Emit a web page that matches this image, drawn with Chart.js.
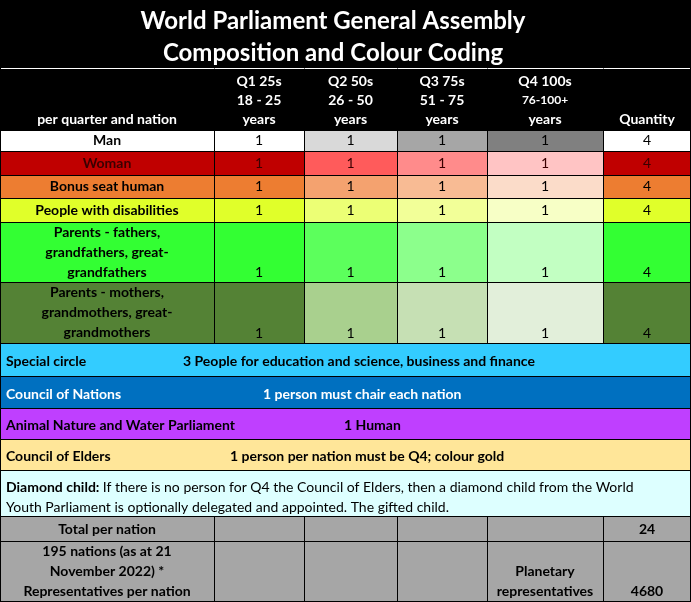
<!DOCTYPE html>
<html><head><meta charset="utf-8">
<script src="https://cdn.jsdelivr.net/npm/chart.js@4"></script>
<style>html,body{margin:0;padding:0;background:#fff}#wrap{width:691px;height:602px}</style>
</head><body><div id="wrap"><canvas id="c"></canvas></div>
<script>
const titleLines = ["World Parliament General Assembly", "Composition and Colour Coding"];
const headerCols = [["per quarter and nation"], ["Q1 25s","18 - 25","years"], ["Q2 50s","26 - 50","years"], ["Q3 75s","51 - 75","years"], ["Q4 100s","76-100+","years"], ["Quantity"]];
const categories = [["Man"],["Woman"],["Bonus seat human"],["People with disabilities"],["Parents - fathers,","grandfathers, great-","grandfathers"],["Parents - mothers,","grandmothers, great-","grandmothers"]];
const q1 = [1,1,1,1,1,1];
const q2 = [1,1,1,1,1,1];
const q3 = [1,1,1,1,1,1];
const q4 = [1,1,1,1,1,1];
const quantity = [4,4,4,4,4,4];
const banners = [["Special circle","3 People for education and science, business and finance"],["Council of Nations","1 person must chair each nation"],["Animal Nature and Water Parliament","1 Human"],["Council of Elders","1 person per nation must be Q4; colour gold"]];
const totalPerNation = 24;
const planetary = 4680;

// styles
const colX = [0,214,304,397,487,603,691];
const rowY = [130,151,175,198,222,282,343];
const rowColors = [
 ["#ffffff","#ffffff","#d9d9d9","#a6a6a6","#808080","#ffffff"],
 ["#c00000","#c00000","#ff5b5b","#ff8b8b","#ffc4c4","#c00000"],
 ["#ed7d31","#ed7d31","#f4a26f","#f8bb94","#fbdcc9","#ed7d31"],
 ["#e0ff2a","#e0ff2a","#ecff75","#f2ff98","#f7ffc6","#e0ff2a"],
 ["#33ff33","#33ff33","#5cff5c","#8cff8c","#c2ffc2","#33ff33"],
 ["#548235","#548235","#a9d08e","#c6e0b4","#e2efda","#548235"]];
const textColors = ["#000","#3a0000","#000","#000","#000","#000"];
const bannerY = [343,376,408,439,470];
const bannerColors = ["#33ccff","#0070c0","#bf3fff","#ffe699"];
const bannerTextColors = ["#000","#fff","#000","#000"];
const bannerX2 = [183,263,344,230];
const FF = "Lato, 'Open Sans', sans-serif";

const tablePlugin = {
 id:'table',
 afterDraw(chart){
  const ctx = chart.ctx, sx = chart.scales.x, sy = chart.scales.y;
  const X = v=>sx.getPixelForValue(v), Y = v=>sy.getPixelForValue(v);
  const rect=(x0,y0,x1,y1,fill)=>{ctx.fillStyle=fill;ctx.fillRect(X(x0),Y(y0),X(x1)-X(x0),Y(y1)-Y(y0));};
  const line=(x0,y0,x1,y1,c)=>{ctx.strokeStyle=c||'#000';ctx.lineWidth=1;ctx.beginPath();ctx.moveTo(Math.round(X(x0))+0.5,Math.round(Y(y0))+0.5);ctx.lineTo(Math.round(X(x1))+0.5,Math.round(Y(y1))+0.5);ctx.stroke();};
  const text=(s,x,y,font,col,align)=>{ctx.font=font;ctx.fillStyle=col;ctx.textAlign=align||'center';ctx.textBaseline='middle';ctx.fillText(s,X(x),Y(y));};
  ctx.save();
  rect(0,0,691,130,'#000');
  titleLines.forEach((t,i)=>text(t,333,21+i*32,"bold 24px "+FF,'#fff'));
  headerCols.forEach((lines,c)=>{
   const cx=(colX[c]+colX[c+1])/2;
   const n=lines.length;
   lines.forEach((l,i)=>text(l,cx,119-(n-1-i)*19,(c===4&&i===1?"bold 12px ":"bold 14px ")+FF,'#fff'));
  });
  line(0,68,691,68,'#fff');
  const vals=[q1,q2,q3,q4];
  categories.forEach((lab,r)=>{
   const y0=rowY[r],y1=rowY[r+1];
   for(let c=0;c<6;c++) rect(colX[c],y0,colX[c+1],y1,rowColors[r][c]);
   const n=lab.length;
   const tc=textColors[r];
   if(n===1){
    const cy=(y0+y1)/2;
    text(lab[0],(colX[0]+colX[1])/2,cy,"bold 14px "+FF,tc);
    vals.forEach((v,c)=>text(String(v[r]),(colX[c+1]+colX[c+2])/2,cy,"14px "+FF,tc));
    text(String(quantity[r]),(colX[5]+colX[6])/2,cy,"14px "+FF,tc);
   } else {
    lab.forEach((l,i)=>text(l,(colX[0]+colX[1])/2,y0+10+i*20,"bold 14px "+FF,tc));
    vals.forEach((v,c)=>text(String(v[r]),(colX[c+1]+colX[c+2])/2,y1-10,"14px "+FF,tc));
    text(String(quantity[r]),(colX[5]+colX[6])/2,y1-10,"14px "+FF,tc);
   }
  });
  for(let r=0;r<rowY.length;r++) line(0,rowY[r],691,rowY[r]);
  for(let c=1;c<6;c++) line(colX[c],68,colX[c],343);
  banners.forEach((b,i)=>{
   const y0=bannerY[i],y1=bannerY[i+1];
   rect(0,y0,691,y1,bannerColors[i]);
   const cy=(y0+y1)/2+2;
   text(b[0],6,cy,"bold 14px "+FF,bannerTextColors[i],'left');
   text(b[1],bannerX2[i],cy,"bold 14px "+FF,bannerTextColors[i],'left');
   line(0,y0,691,y0);
  });
  rect(0,470,691,516,'#ddffff');
  line(0,470,691,470);
  ctx.font="bold 14px "+FF;
  const dl="Diamond child:";
  const w=ctx.measureText(dl+" ").width;
  text(dl,6,487,"bold 14px "+FF,'#000','left');
  text("If there is no person for Q4 the Council of Elders, then a diamond child from the World",6+w,487,"14px "+FF,'#000','left');
  text("Youth Parliament is optionally delegated and appointed. The gifted child.",6,507,"14px "+FF,'#000','left');
  rect(0,516,691,602,'#a6a6a6');
  line(0,516,691,516); line(0,541,691,541);
  for(let c=1;c<6;c++) line(colX[c],516,colX[c],602);
  text("Total per nation",107,529,"bold 14px "+FF,'#000');
  text(String(totalPerNation),647,529,"bold 14px "+FF,'#000');
  ["195 nations (as at 21","November 2022) *","Representatives per nation"].forEach((l,i)=>text(l,107,551+i*20,"bold 14px "+FF,'#000'));
  text("Planetary",545,571,"bold 14px "+FF,'#000');
  text("representatives",545,591,"bold 14px "+FF,'#000');
  text(String(planetary),647,591,"bold 14px "+FF,'#000');
  ctx.strokeStyle='#000'; ctx.lineWidth=1; ctx.strokeRect(0.5,0.5,690,601);
  ctx.restore();
 }
};

new Chart(document.getElementById('c'),{
 type:'scatter',
 data:{datasets:[{data:[]}]},
 options:{responsive:true,maintainAspectRatio:false,animation:false,
  layout:{padding:0},
  plugins:{legend:{display:false},tooltip:{enabled:false}},
  scales:{x:{type:'linear',min:0,max:691,offset:false,display:false},y:{type:'linear',min:0,max:602,reverse:true,offset:false,display:false}}},
 plugins:[tablePlugin]
});
</script></body></html>
